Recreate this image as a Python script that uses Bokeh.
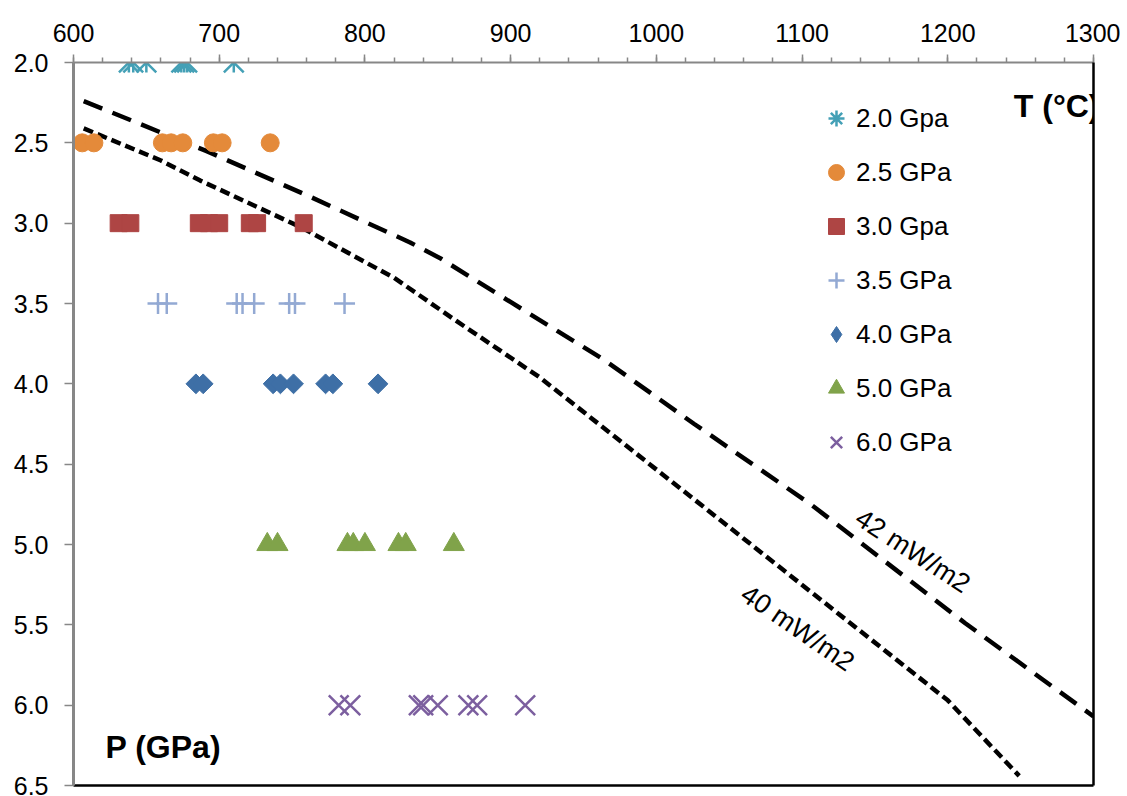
import math
from bokeh.plotting import figure
from bokeh.models import (Range1d, LinearAxis, SingleIntervalTicker, FixedTicker,
                          PrintfTickFormatter, Legend, LegendItem, Label)
from bokeh.embed import file_html
from bokeh.resources import INLINE
from bokeh.core.properties import value

# ---------------- data ----------------
T_20 = [638, 641, 650, 674, 676, 678, 710]
T_25 = [606, 614, 661, 667, 675, 696, 702, 735]
T_30 = [631, 639, 686, 693, 700, 721, 726, 758]
T_35 = [658, 664, 712, 716, 724, 748, 752, 786]
T_40 = [684, 689, 737, 742, 751, 773, 778, 809]
T_50 = [733, 740, 788, 792, 800, 823, 828, 861]
T_60 = [782, 790, 837, 840, 850, 871, 877, 910]

series_labels = ["2.0 Gpa", "2.5 GPa", "3.0 Gpa", "3.5 GPa", "4.0 GPa", "5.0 GPa", "6.0 GPa"]
series_P = [2.0, 2.5, 3.0, 3.5, 4.0, 5.0, 6.0]

geo42_T = [607, 691, 761, 831, 852, 898, 964, 1026, 1106, 1212, 1300]
geo42_P = [2.24, 2.55, 2.83, 3.12, 3.22, 3.48, 3.85, 4.25, 4.75, 5.49, 6.07]
geo40_T = [607, 660, 687, 756, 820, 863, 920, 1017, 1200, 1249]
geo40_P = [2.41, 2.61, 2.735, 3.025, 3.34, 3.61, 3.96, 4.655, 5.97, 6.44]

geo_labels = ["42 mW/m2", "40 mW/m2"]

FONT = "Liberation Sans"
C20, C25, C30, C35, C40, C50, C60 = ("#44A0B6", "#E48A3A", "#AE4544", "#93A9D3",
                                     "#3E6FA6", "#80A34A", "#7C5F9F")

p = figure(width=1120, height=795,
           x_range=Range1d(600, 1300), y_range=Range1d(6.5, 2.0),
           x_axis_location="above", output_backend="svg", toolbar_location=None,
           min_border_left=73, min_border_top=62, min_border_right=27, min_border_bottom=10)
p.background_fill_color = "white"
p.border_fill_color = "white"
p.outline_line_color = None
p.xgrid.grid_line_color = None
p.ygrid.grid_line_color = None

# top axis
xa = p.xaxis[0]
xa.ticker = SingleIntervalTicker(interval=100, num_minor_ticks=5)
xa.axis_line_color = "#878787"
xa.axis_line_width = 2
xa.major_tick_line_color = "#878787"
xa.major_tick_line_width = 1.5
xa.minor_tick_line_color = "#878787"
xa.minor_tick_line_width = 1.5
xa.major_tick_in = 0
xa.major_tick_out = 8
xa.minor_tick_in = 0
xa.minor_tick_out = 5
xa.major_label_text_font = FONT
xa.major_label_text_font_size = "25px"
xa.major_label_text_color = "black"
xa.major_label_standoff = 13

# left axis
ya = p.yaxis[0]
ya.ticker = SingleIntervalTicker(interval=0.5, num_minor_ticks=0)
ya.formatter = PrintfTickFormatter(format="%.1f")
ya.axis_line_color = "#878787"
ya.axis_line_width = 3
ya.major_tick_line_color = "#878787"
ya.major_tick_line_width = 1.5
ya.major_tick_in = 0
ya.major_tick_out = 9
ya.minor_tick_line_color = None
ya.major_label_text_font = FONT
ya.major_label_text_font_size = "25px"
ya.major_label_text_color = "black"
ya.major_label_standoff = 16

# frame borders right and bottom (black)
for loc in ("right", "below"):
    ax = LinearAxis(ticker=FixedTicker(ticks=[]), axis_line_color="black", axis_line_width=2.5,
                    major_tick_line_color=None, minor_tick_line_color=None,
                    major_label_text_font_size="0px")
    p.add_layout(ax, loc)

# geotherms
p.line(geo42_T, geo42_P, line_color="black", line_width=4.5, line_dash="20 11")
p.line(geo40_T, geo40_P, line_color="black", line_width=4.5, line_dash="10 5")

# data series
def ys(xs, pv):
    return [pv] * len(xs)

# 2.0 GPa: star = X + vertical bar
p.scatter(T_20, ys(T_20, series_P[0]), marker="x", size=28, line_color=C20, line_width=2.5)
p.scatter(T_20, ys(T_20, series_P[0]), marker="dash", size=20, angle=math.pi / 2,
          line_color=C20, line_width=2.5)
r20 = p.scatter(T_20, ys(T_20, series_P[0]), marker="asterisk", size=0,
                line_color=C20, line_width=2.5)  # legend key

r25 = p.scatter(T_25, ys(T_25, series_P[1]), marker="circle", size=18,
                fill_color=C25, line_color=C25)
r30 = p.scatter(T_30, ys(T_30, series_P[2]), marker="square", size=17,
                fill_color=C30, line_color=C30)
r35 = p.scatter(T_35, ys(T_35, series_P[3]), marker="cross", size=21,
                line_color=C35, line_width=2.5)
p.scatter(T_40, ys(T_40, series_P[4]), marker="square", size=14, angle=math.pi / 4,
          fill_color=C40, line_color=C40)
r40 = p.scatter(T_40, ys(T_40, series_P[4]), marker="diamond", size=0,
                fill_color=C40, line_color=C40)  # legend key
r50 = p.scatter(T_50, ys(T_50, series_P[5]), marker="triangle", size=21,
                fill_color=C50, line_color=C50)
r60 = p.scatter(T_60, ys(T_60, series_P[6]), marker="x", size=28,
                line_color=C60, line_width=2.5)

renderers = [r20, r25, r30, r35, r40, r50, r60]
legend = Legend(items=[LegendItem(label=l, renderers=[r]) for l, r in zip(series_labels, renderers)],
                location=(743, 318), glyph_width=40, glyph_height=50, label_height=50,
                spacing=4, padding=0, margin=0, label_standoff=0,
                label_text_font=FONT, label_text_font_size="26px", label_text_color="black",
                border_line_color=None, background_fill_alpha=0)
p.add_layout(legend)

# geotherm labels
p.text(x=[1176, 1097], y=[5.04, 5.52], text=geo_labels, angle=[-0.575, -0.60],
       text_font=value(FONT), text_font_size="27px", text_color="black",
       text_align="center", text_baseline="middle")

# axis titles
p.add_layout(Label(x=1300, y=2.27, x_offset=6, text="T (°C)", text_align="right",
                   text_baseline="middle", text_font=FONT, text_font_size="32px",
                   text_font_style="bold", text_color="black"))
p.add_layout(Label(x=622, y=6.26, text="P (GPa)", text_align="left",
                   text_baseline="middle", text_font=FONT, text_font_size="32px",
                   text_font_style="bold", text_color="black"))

open("out.html", "w").write(file_html(p, INLINE))
